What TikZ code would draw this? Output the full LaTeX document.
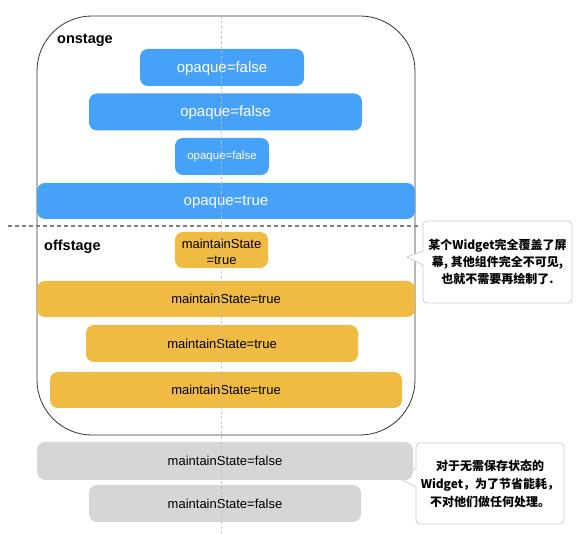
\documentclass[tikz,border=0pt]{standalone}
\usepackage{fontspec}
\setmainfont{Liberation Sans}
\newfontfamily\cjk{Noto Sans CJK SC}
\definecolor{barblue}{RGB}{70,162,248}
\definecolor{baryellow}{RGB}{240,187,66}
\definecolor{bargray}{RGB}{214,214,214}
\definecolor{framecol}{RGB}{50,50,50}
\definecolor{calloutcol}{RGB}{205,205,205}
\begin{document}
\begin{tikzpicture}[x=1pt,y=-1pt,
  bar/.style={rounded corners=8pt, inner sep=0pt, minimum height=37pt, anchor=center},
  bluebar/.style={bar, fill=barblue, text=white, font=\fontsize{15}{18}\selectfont, text height=11pt, text depth=1pt},
  smallbluebar/.style={bar, fill=barblue, text=white, font=\fontsize{11.5}{14}\selectfont, text height=8pt, text depth=1pt},
  yellowbar/.style={bar, fill=baryellow, text=black, font=\fontsize{13}{16}\selectfont, text height=10.5pt, text depth=0.5pt},
  yellowbox/.style={bar, fill=baryellow},
  pairtext/.style={inner sep=0pt, text=black, font=\fontsize{13}{16}\selectfont, align=center},
  graybar/.style={bar, fill=bargray, text=black, font=\fontsize{13}{16}\selectfont, text height=10.5pt, text depth=0.5pt},
  stagelabel/.style={anchor=base west, inner sep=0pt, font=\fontsize{14.5}{17}\selectfont\bfseries},
  callout/.style={draw=calloutcol, line width=0.8pt, fill=white, rounded corners=4pt, inner sep=0pt, align=center},
  calloutedge/.style={draw=calloutcol, line width=0.8pt},
  stageframe/.style={draw=framecol, line width=0.8pt, rounded corners=55pt},
  splitline/.style={draw=black!50, line width=1.3pt, dash pattern=on 4pt off 3pt},
  centreline/.style={draw=black!25, line width=0.6pt, dash pattern=on 3pt off 2pt, opacity=0.8}]
\useasboundingbox (0,0) rectangle (579,534);

% stage frame
\draw[stageframe] (37,16) rectangle (415,435);

% labels
\node[stagelabel] (onstage) at (57,43.5) {onstage};
\node[stagelabel] (offstage) at (44,250.5) {offstage};

% onstage bars
\node[bluebar, minimum width=164pt] (o1) at (222,67.5) {opaque=false};
\node[bluebar, minimum width=273pt] (o2) at (225.5,112) {opaque=false};
\node[smallbluebar, minimum width=94pt] (o3) at (222,156.5) {opaque=false};
\node[bluebar, minimum width=378pt, minimum height=36pt] (o4) at (226,201) {opaque=true};

% offstage bars
\node[yellowbox, minimum width=93pt, minimum height=36pt] (m1) at (221.5,250) {};
\node[pairtext] (m1text) at (221.5,252) {maintainState\\=true};
\node[yellowbar, minimum width=378pt, minimum height=36pt] (m2) at (226,299) {maintainState=true};
\node[yellowbar, minimum width=272pt] (m3) at (222,343.5) {maintainState=true};
\node[yellowbar, minimum width=352pt, minimum height=36pt] (m4) at (226,390) {maintainState=true};

% callout 1
\node[callout, minimum width=149pt, minimum height=82pt, font=\fontsize{12}{17}\selectfont\cjk\bfseries] (c1) at (497.5,262)
  {某个Widget完全覆盖了屏\\幕, 其他组件完全不可见,\\也就不需要再绘制了.};
\coordinate (t1) at (407,257);
\fill[white] (423.6,251) -- (t1) -- (423.6,265) -- cycle;
\draw[calloutedge] (423,251) -- (t1) -- (423,265);

% callout 2
\node[callout, minimum width=148pt, minimum height=81pt, font=\fontsize{12}{18}\selectfont\cjk\bfseries] (c2) at (490,483.5)
  {对于无需保存状态的\\Widget，为了节省能耗，\\不对他们做任何处理。};
\coordinate (t2) at (402,480);
\fill[white] (416.6,468) -- (t2) -- (416.6,487) -- cycle;
\draw[calloutedge] (416,468) -- (t2) -- (416,487);

% discarded bars
\node[graybar, minimum width=376pt, minimum height=38pt] (g1) at (225,461) {maintainState=false};
\node[graybar, minimum width=272pt] (g2) at (225,503.5) {maintainState=false};

% split line and centre line
\draw[splitline] (8,226) -- (418,226);
\draw[centreline] (221,16) -- (221,534);
\end{tikzpicture}
\end{document}
